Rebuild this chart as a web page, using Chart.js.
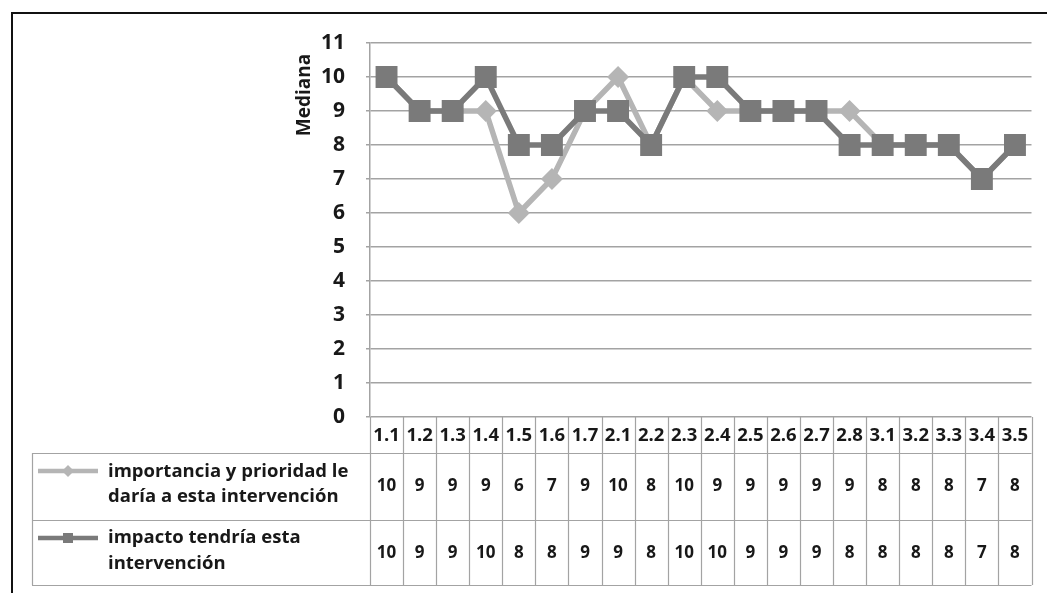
<!DOCTYPE html>
<html>
<head>
<meta charset="utf-8">
<script src="https://cdn.jsdelivr.net/npm/chart.js@4.4.1/dist/chart.umd.min.js"></script>
<style>
    body { margin: 0; background: #fff; }
    .wrap { position: relative; width: 1047px; height: 593px; overflow: hidden; }
    .frame { position: absolute; left: 11px; top: 12px; width: 1100px; height: 700px;
             border-top: 2.5px solid #111; border-left: 2.5px solid #111; box-sizing: border-box; }
    canvas { position: absolute; left: 0; top: 0; }
</style>
</head>
<body>
<div class="wrap">
    <div class="frame"></div>
    <canvas id="chart" width="1047" height="593"></canvas>
</div>
<script>
const categories = ['1.1', '1.2', '1.3', '1.4', '1.5', '1.6', '1.7', '2.1', '2.2', '2.3',
                    '2.4', '2.5', '2.6', '2.7', '2.8', '3.1', '3.2', '3.3', '3.4', '3.5'];
const importancia = [10, 9, 9, 9, 6, 7, 9, 10, 8, 10, 9, 9, 9, 9, 9, 8, 8, 8, 7, 8];
const impacto = [10, 9, 9, 10, 8, 8, 9, 9, 8, 10, 10, 9, 9, 9, 8, 8, 8, 8, 7, 8];
const seriesNames = [
    ['importancia y prioridad le', 'daría a esta intervención'],
    ['impacto tendría esta', 'intervención']
];
const yTitle = 'Mediana';

const lightGray = '#b5b5b5';
const darkGray = '#7a7a7a';
const gridGray = '#a3a3a3';
const textColor = '#181818';
const fontFamily = '"Open Sans", "Noto Sans", sans-serif';

// Data table below the plot + axis title
const tablePlugin = {
    id: 'dataTable',
    afterDraw(chart) {
        const ctx = chart.ctx;
        const area = chart.chartArea;
        const x = chart.scales.x;
        const n = categories.length;
        const colW = (area.right - area.left) / n;
        const legendLeft = 32;
        const headerBottom = 453;
        const rowBottoms = [520, 585];
        const tableBottom = rowBottoms[1];

        ctx.save();
        ctx.strokeStyle = gridGray;
        ctx.lineWidth = 1.2;

        // column lines
        for (let i = 0; i <= n; i++) {
            const cx = Math.round(area.left + i * colW) + 0.5;
            ctx.beginPath();
            ctx.moveTo(cx, area.bottom);
            ctx.lineTo(cx, tableBottom);
            ctx.stroke();
        }
        // row lines
        [headerBottom, ...rowBottoms].forEach(y => {
            ctx.beginPath();
            ctx.moveTo(legendLeft, y + 0.5);
            ctx.lineTo(area.right, y + 0.5);
            ctx.stroke();
        });
        ctx.beginPath();
        ctx.moveTo(legendLeft + 0.5, headerBottom);
        ctx.lineTo(legendLeft + 0.5, tableBottom);
        ctx.stroke();

        ctx.fillStyle = textColor;
        ctx.textAlign = 'center';
        ctx.textBaseline = 'middle';

        // header labels
        ctx.font = 'bold 18.5px ' + fontFamily;
        categories.forEach((c, i) => {
            ctx.fillText(c, x.getPixelForValue(i), 436);
        });

        // values
        ctx.font = 'bold 17px ' + fontFamily;
        const rowsData = [importancia, impacto];
        const rowCenters = [486, 553];
        rowsData.forEach((vals, r) => {
            vals.forEach((v, i) => {
                ctx.fillText(String(v), x.getPixelForValue(i), rowCenters[r]);
            });
        });

        // legend keys
        const keyY = [471, 538];
        const colors = [lightGray, darkGray];
        const lineY = [[472, 497], [538, 564]];
        for (let r = 0; r < 2; r++) {
            ctx.strokeStyle = colors[r];
            ctx.fillStyle = colors[r];
            ctx.lineWidth = 4.5;
            ctx.beginPath();
            ctx.moveTo(38, keyY[r]);
            ctx.lineTo(98, keyY[r]);
            ctx.stroke();
            if (r === 0) {
                ctx.beginPath();
                ctx.moveTo(68, keyY[r] - 6);
                ctx.lineTo(74, keyY[r]);
                ctx.lineTo(68, keyY[r] + 6);
                ctx.lineTo(62, keyY[r]);
                ctx.closePath();
                ctx.fill();
            } else {
                ctx.fillRect(63, keyY[r] - 5, 10, 10);
            }
            ctx.fillStyle = textColor;
            ctx.textAlign = 'left';
            ctx.font = 'bold 18.5px ' + fontFamily;
            seriesNames[r].forEach((t, k) => ctx.fillText(t, 108, lineY[r][k]));
        }

        // y axis title
        ctx.save();
        ctx.translate(305, 95);
        ctx.rotate(-Math.PI / 2);
        ctx.textAlign = 'center';
        ctx.font = 'bold 19px ' + fontFamily;
        ctx.fillStyle = textColor;
        ctx.fillText(yTitle, 0, 0);
        ctx.restore();

        ctx.restore();
    }
};

new Chart(document.getElementById('chart'), {
    type: 'line',
    data: {
        labels: categories,
        datasets: [
            {
                label: seriesNames[0].join(' '),
                data: importancia,
                borderColor: lightGray,
                backgroundColor: lightGray,
                borderWidth: 5.5,
                pointStyle: 'rectRot',
                pointRadius: 11,
                pointBorderWidth: 0,
                pointBackgroundColor: lightGray,
                tension: 0,
                order: 1
            },
            {
                label: seriesNames[1].join(' '),
                data: impacto,
                borderColor: darkGray,
                backgroundColor: darkGray,
                borderWidth: 5.5,
                pointStyle: 'rect',
                pointRadius: 15.5,
                pointBorderWidth: 0,
                pointBackgroundColor: darkGray,
                tension: 0,
                order: 0
            }
        ]
    },
    options: {
        responsive: false,
        animation: false,
        layout: { padding: { left: 0, top: 43, right: 7, bottom: 176 } },
        plugins: {
            legend: { display: false },
            tooltip: { enabled: false }
        },
        scales: {
            x: {
                display: false,
                offset: true
            },
            y: {
                min: 0,
                max: 11,
                afterFit(scale) { scale.width = 370; },
                ticks: {
                    stepSize: 1,
                    padding: 21,
                    color: textColor,
                    font: { family: fontFamily, size: 21, weight: 'bold' }
                },
                grid: {
                    color: gridGray,
                    lineWidth: 1.5,
                    tickLength: 4
                },
                border: { color: gridGray, width: 1.5 }
            }
        }
    },
    plugins: [tablePlugin]
});
</script>
</body>
</html>
